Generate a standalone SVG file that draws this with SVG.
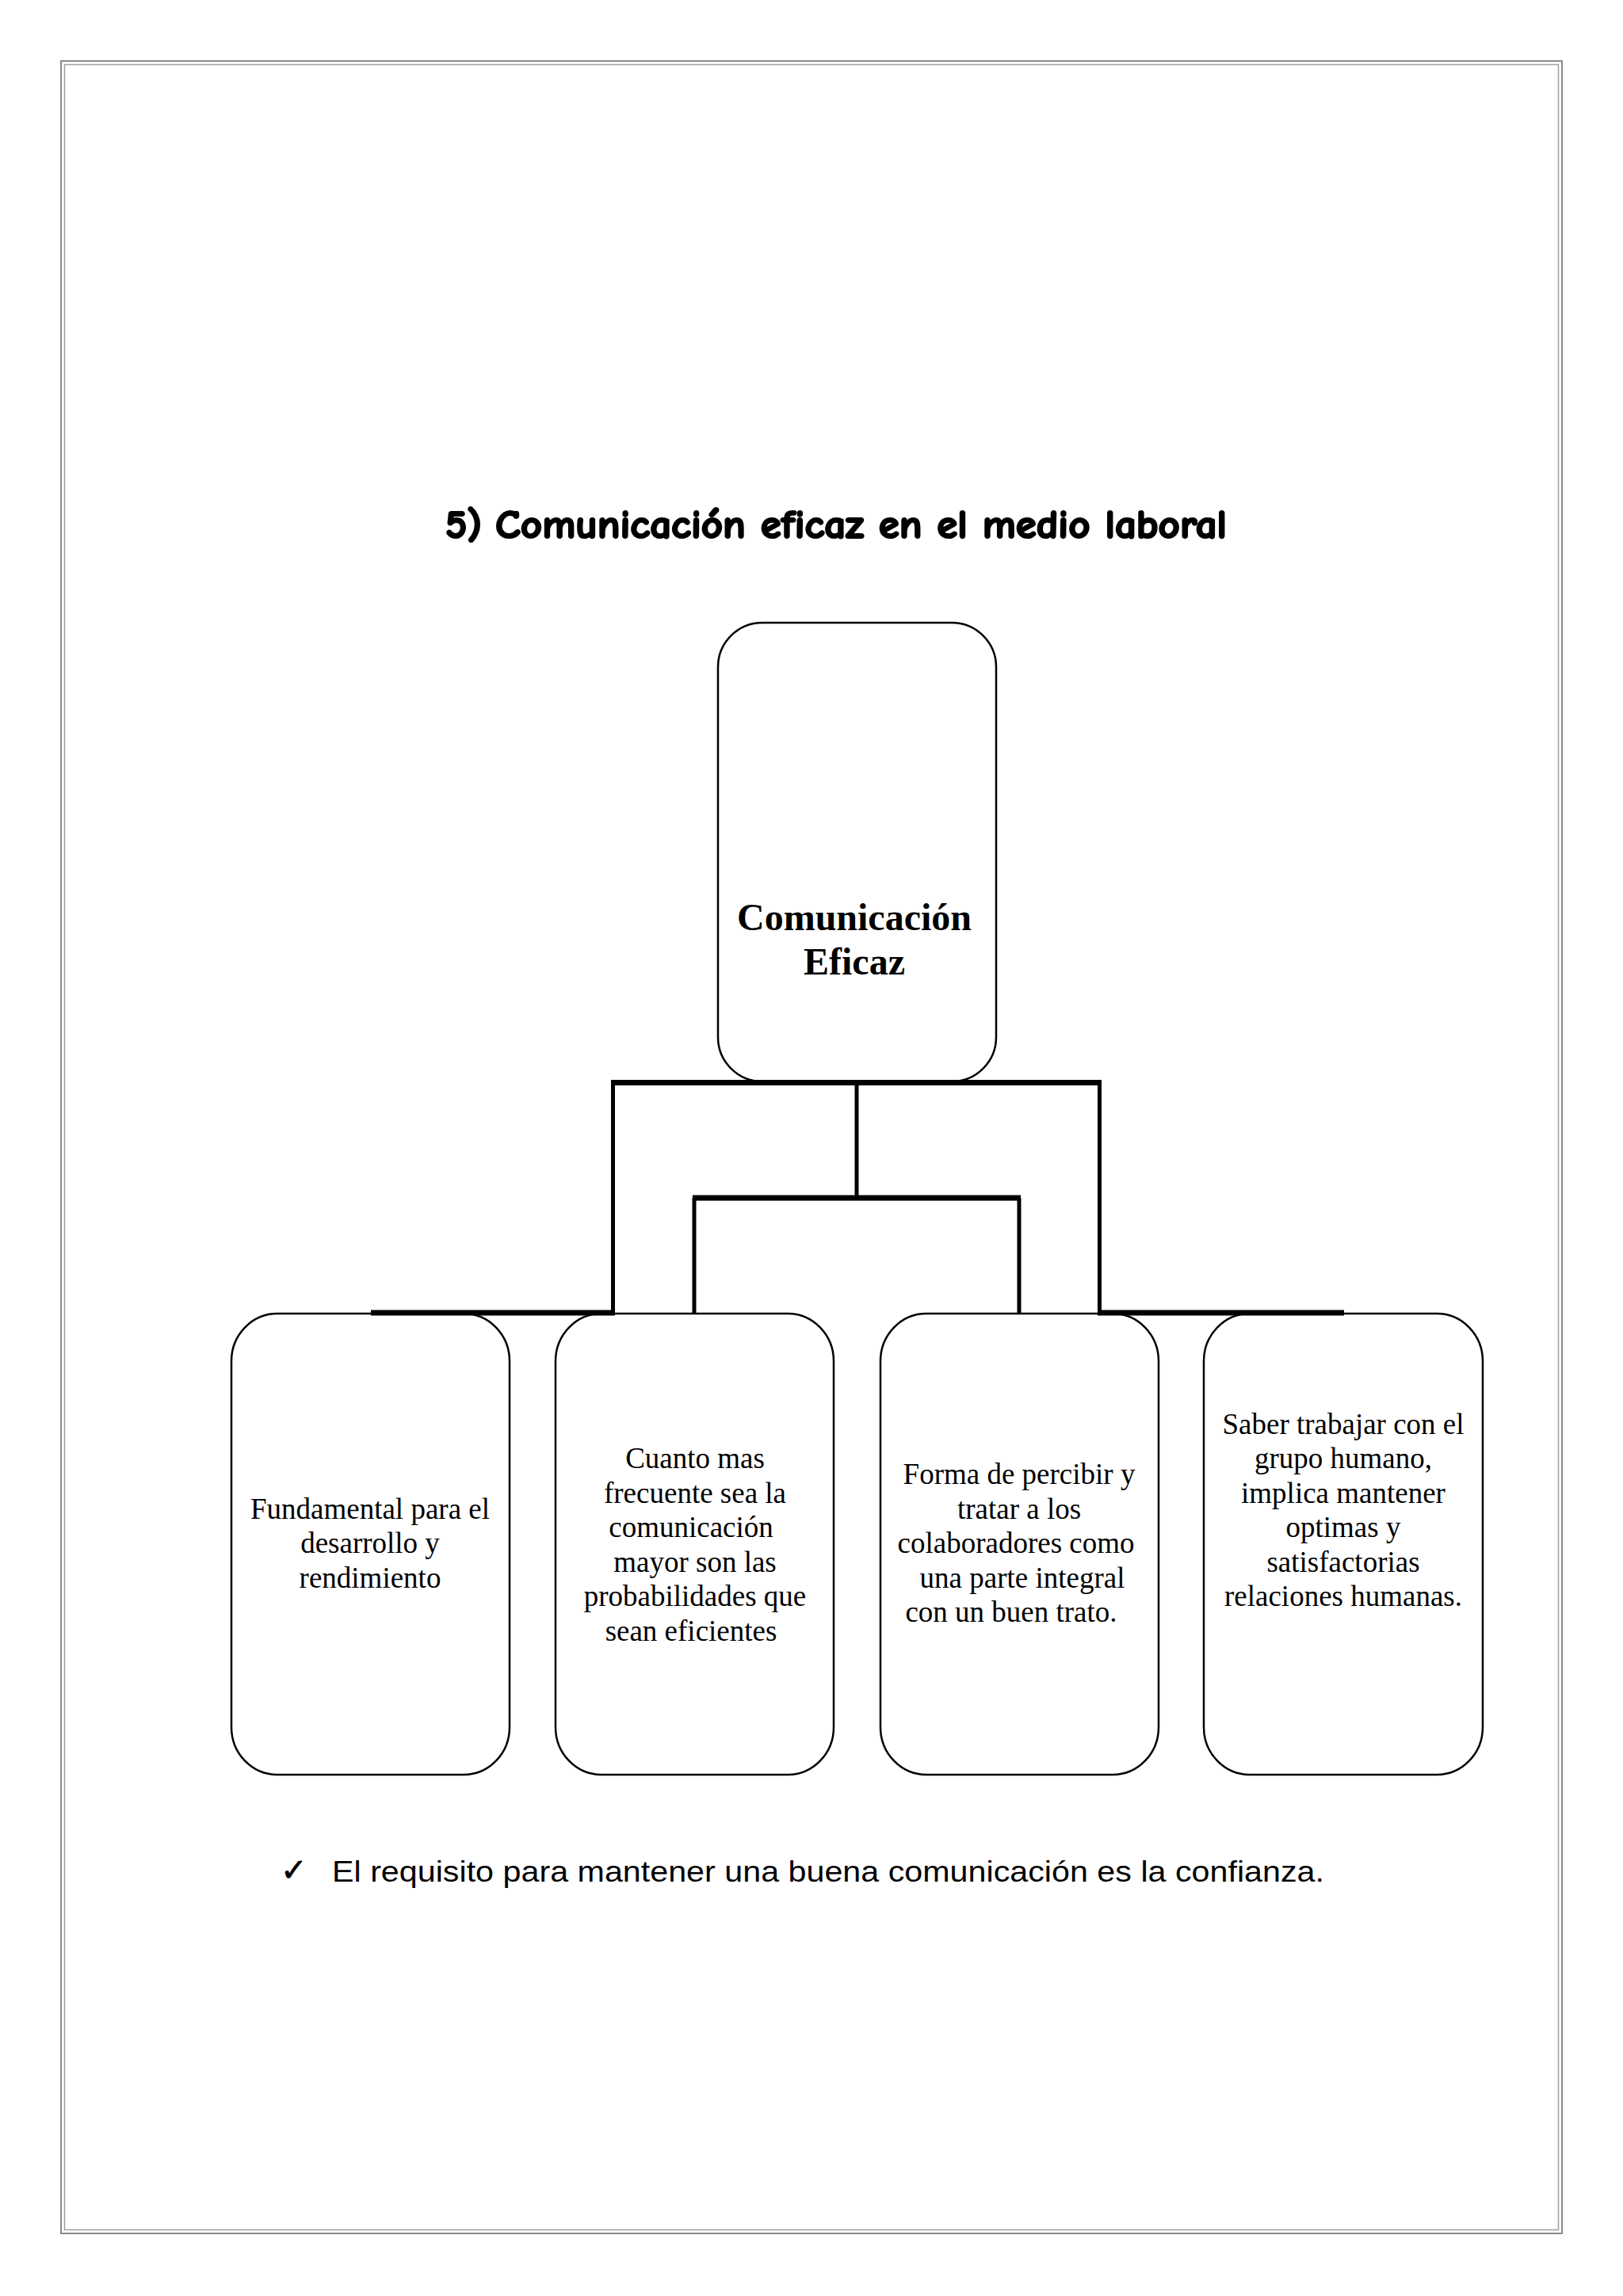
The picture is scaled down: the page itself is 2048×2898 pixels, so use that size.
<svg xmlns="http://www.w3.org/2000/svg" width="2048" height="2898" viewBox="0 0 2048 2898">
<style>
.box{fill:#fff;stroke:#000;stroke-width:2.5}
.t{font-family:"Liberation Serif","Times New Roman",serif;font-size:37px;fill:#000;text-anchor:middle}
.tb{font-family:"Liberation Serif","Times New Roman",serif;font-size:48px;font-weight:bold;fill:#000;text-anchor:middle}
.v{stroke:#000;stroke-width:5;fill:none}
.h{stroke:#000;stroke-width:7;fill:none}
.ttl{font-family:"Comic Sans MS","Comic Neue","DejaVu Sans",sans-serif;font-weight:bold;font-size:50px;fill:#000;stroke:#000;stroke-width:2.2}
</style>
<rect width="2048" height="2898" fill="#fff"/>
<g id="page-border" fill="none">
<rect x="77" y="77" width="1894" height="2742" stroke="#8a8a8a" stroke-width="2"/>
<rect x="81.5" y="81.5" width="1885" height="2733" stroke="#a0a0a0" stroke-width="1.5"/>
</g>
<g id="title">
<text class="ttl" x="562" y="679" textLength="46" lengthAdjust="spacingAndGlyphs">5)</text>
<text class="ttl" x="625" y="679" textLength="923" lengthAdjust="spacingAndGlyphs">Comunicación eficaz en el medio laboral</text>
</g>
<g id="node-root">
<rect class="box" x="906" y="786" width="351" height="579" rx="56" ry="56"/>
<text class="tb" x="1078" y="1174">Comunicación</text>
<text class="tb" x="1078" y="1230">Eficaz</text>
</g>
<g id="node-1">
<rect class="box" x="292" y="1658" width="351" height="582" rx="58" ry="60"/>
<text class="t" x="467" y="1917">Fundamental para el</text>
<text class="t" x="467" y="1960">desarrollo y</text>
<text class="t" x="467" y="2004">rendimiento</text>
</g>
<g id="node-2">
<rect class="box" x="701" y="1658" width="351" height="582" rx="58" ry="60"/>
<text class="t" x="877" y="1853">Cuanto mas</text>
<text class="t" x="877" y="1897">frecuente sea la</text>
<text class="t" x="872" y="1940">comunicación</text>
<text class="t" x="877" y="1984">mayor son las</text>
<text class="t" x="877" y="2027">probabilidades que</text>
<text class="t" x="872" y="2071">sean eficientes</text>
</g>
<g id="node-3">
<rect class="box" x="1111" y="1658" width="351" height="582" rx="58" ry="60"/>
<text class="t" x="1286" y="1873">Forma de percibir y</text>
<text class="t" x="1286" y="1917">tratar a los</text>
<text class="t" x="1282" y="1960">colaboradores como</text>
<text class="t" x="1290" y="2004">una parte integral</text>
<text class="t" x="1276" y="2047">con un buen trato.</text>
</g>
<g id="node-4">
<rect class="box" x="1519" y="1658" width="352" height="582" rx="58" ry="60"/>
<text class="t" x="1695" y="1810">Saber trabajar con el</text>
<text class="t" x="1695" y="1853">grupo humano,</text>
<text class="t" x="1695" y="1897">implica mantener</text>
<text class="t" x="1695" y="1940">optimas y</text>
<text class="t" x="1695" y="1984">satisfactorias</text>
<text class="t" x="1695" y="2027">relaciones humanas.</text>
</g>
<g id="connectors">
<line class="h" x1="771" y1="1366.5" x2="1390" y2="1366.5"/>
<line class="v" x1="1081" y1="1366" x2="1081" y2="1512"/>
<line class="h" x1="874" y1="1512" x2="1288" y2="1512"/>
<line class="v" x1="876" y1="1512" x2="876" y2="1658"/>
<line class="v" x1="1286" y1="1512" x2="1286" y2="1658"/>
<line class="v" x1="773.5" y1="1366" x2="773.5" y2="1660"/>
<line class="v" x1="1387.5" y1="1366" x2="1387.5" y2="1660"/>
<line class="h" x1="468" y1="1657" x2="776" y2="1657"/>
<line class="h" x1="1385" y1="1657" x2="1696" y2="1657"/>
</g>
<g id="bullet">
<text x="354" y="2374" font-family="'DejaVu Sans',sans-serif" font-size="40" fill="#000" stroke="#000" stroke-width="0.8">✓</text>
<text x="419" y="2375" font-family="'Liberation Sans',Arial,sans-serif" font-size="36" fill="#000" textLength="1252" lengthAdjust="spacingAndGlyphs">El requisito para mantener una buena comunicación es la confianza.</text>
</g>
</svg>
